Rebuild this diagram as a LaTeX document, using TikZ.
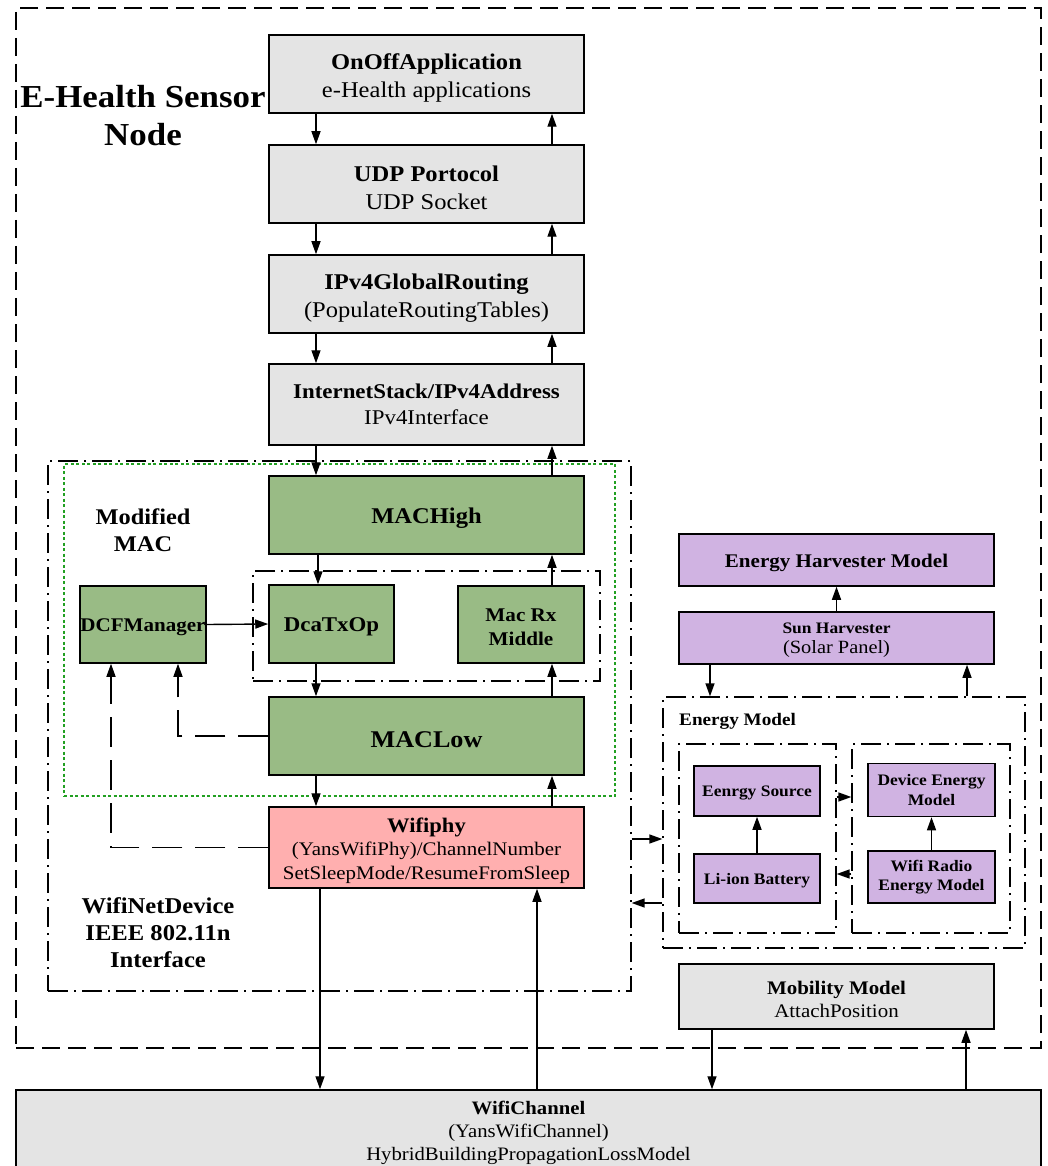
\documentclass[tikz,border=0pt]{standalone}
\usepackage{fontspec}
\setmainfont{Liberation Serif}[FakeStretch=1.09]
\usetikzlibrary{arrows.meta}

\definecolor{boxgray}{HTML}{E4E4E4}
\definecolor{macgreen}{HTML}{99BB85}
\definecolor{phypink}{HTML}{FFAFAF}
\definecolor{energypurple}{HTML}{D0B3E2}
\definecolor{dotgreen}{HTML}{22A022}

\newcommand{\fsz}[2]{\fontsize{#1}{#2}\selectfont}
% taller first line, so that the text sits a little below the box centre
\newcommand{\toppad}[1][1.05em]{\rule{0pt}{#1}}

\tikzset{
  box/.style={draw, line width=1.5pt, align=center, inner sep=0pt,
    execute at begin node=\toppad[0.96em]},
  graybox/.style={box, fill=boxgray, font=\fsz{22.5}{28}},
  greenbox/.style={box, fill=macgreen},
  pinkbox/.style={box, fill=phypink},
  purplebox/.style={box, fill=energypurple},
  tip/.style={-{Triangle[length=13pt,width=9pt]}},
  arr/.style={line width=1.4pt, tip},
  dashconn/.style={line width=1.4pt, dash pattern=on 30pt off 13pt, tip},
  dashdot/.style={draw, line width=1.3pt, dash pattern=on 20pt off 6pt on 2pt off 6pt, inner sep=0pt},
  outerdash/.style={draw, line width=1.3pt, dash pattern=on 18pt off 8pt},
  greendot/.style={draw=dotgreen, line width=1.2pt, dash pattern=on 3pt off 2.5pt},
  lbl/.style={align=center, inner sep=0pt, font=\bfseries},
}

\begin{document}
\begin{tikzpicture}[x=1pt, y=-1pt]
\useasboundingbox (0,0) rectangle (1047,1166);

% sensor node frame
\node[outerdash, minimum width=1025pt, minimum height=1040pt] (node) at (528.5,528) {};
\node[lbl, font=\bfseries\fsz{32}{38}] (title) at (143,116) {E-Health Sensor\\Node};

% protocol stack
\node[graybox, minimum width=315pt, minimum height=78pt] (app) at (426.5,74)
  {\toppad{\bfseries OnOffApplication}\\e-Health applications};
\node[graybox, minimum width=315pt, minimum height=78pt] (udp) at (426.5,184)
  {\toppad{\bfseries UDP Portocol}\\UDP Socket};
\node[graybox, minimum width=315pt, minimum height=78pt] (route) at (426.5,294)
  {\toppad{\bfseries IPv4GlobalRouting}\\(PopulateRoutingTables)};
\node[graybox, minimum width=315pt, minimum height=81pt, font=\fsz{21}{26}] (inet) at (426.5,404.5)
  {{\bfseries InternetStack/IPv4Address}\\IPv4Interface};

% WifiNetDevice and modified MAC frames
\node[dashdot, minimum width=583pt, minimum height=530pt] (wnd) at (339.5,726) {};
\node[greendot, minimum width=551pt, minimum height=332pt] (mmac) at (339.5,630) {};
\node[dashdot, minimum width=347pt, minimum height=110pt] (dcagrp) at (426.5,626) {};
\node[lbl, font=\bfseries\fsz{22.4}{27}] (mmaclbl) at (143,530) {Modified\\MAC};
\node[lbl, font=\bfseries\fsz{22.6}{27}] (wndlbl) at (158,933) {WifiNetDevice\\IEEE 802.11n\\Interface};

% MAC layer
\node[greenbox, minimum width=315pt, minimum height=78pt, font=\bfseries\fsz{22.5}{27}] (mhigh) at (426.5,515) {MACHigh};
\node[greenbox, minimum width=125pt, minimum height=78pt, font=\bfseries\fsz{21}{26}] (dca) at (331.5,624) {DcaTxOp};
\node[greenbox, minimum width=126pt, minimum height=77pt, font=\bfseries\fsz{19.4}{24}] (macrx) at (521,624.5) {\toppad[0.9em]Mac Rx\\Middle};
\node[greenbox, minimum width=126pt, minimum height=77pt, font=\bfseries\fsz{19.3}{24}] (dcf) at (143,624.5) {DCFManager};
\node[greenbox, minimum width=315pt, minimum height=78pt, font=\bfseries\fsz{24}{28}, execute at begin node={}] (mlow) at (426.5,736) {MACLow};

% physical layer
\node[pinkbox, minimum width=315pt, minimum height=81pt, font=\fsz{19.2}{23.5}] (phy) at (426.5,847.5)
  {\toppad{\bfseries\fsz{20.7}{23.5}Wifiphy}\\(YansWifiPhy)/ChannelNumber\\SetSleepMode/ResumeFromSleep};

% channel
\node[graybox, minimum width=1025pt, minimum height=80pt, font=\fsz{19}{23}] (chan) at (528.5,1130)
  {\toppad{\bfseries WifiChannel}\\(YansWifiChannel)\\HybridBuildingPropagationLossModel};

% energy side
\node[purplebox, minimum width=315pt, minimum height=52pt, font=\bfseries\fsz{19.3}{24}] (ehm) at (836.5,560) {Energy Harvester Model};
\node[purplebox, minimum width=315pt, minimum height=52pt, font=\fsz{18.7}{20}] (sun) at (836.5,638)
  {\toppad[15pt]{\bfseries\fsz{16}{20}Sun Harvester}\\(Solar Panel)};
\node[dashdot, minimum width=362pt, minimum height=251pt] (em) at (844,822.5) {};
\node[lbl, anchor=west, font=\bfseries\fsz{17.6}{22}] (emlbl) at (679,721) {Energy Model};
\node[dashdot, minimum width=157pt, minimum height=189pt] (emL) at (757.5,838.5) {};
\node[dashdot, minimum width=158pt, minimum height=189pt] (emR) at (931,838.5) {};
\node[purplebox, minimum width=126pt, minimum height=50pt, font=\bfseries\fsz{16}{19.5}] (src) at (757,791) {Eenrgy Source};
\node[purplebox, minimum width=126pt, minimum height=49pt, font=\bfseries\fsz{16}{19.5}] (batt) at (757,878.5) {Li-ion Battery};
\node[purplebox, minimum width=127pt, minimum height=53pt, font=\bfseries\fsz{16}{19.5}] (dev) at (931.5,790) {Device Energy\\Model};
\node[purplebox, minimum width=127pt, minimum height=52pt, font=\bfseries\fsz{16}{19.5}] (radio) at (931.5,877) {Wifi Radio\\Energy Model};

% mobility
\node[graybox, minimum width=315pt, minimum height=65pt, font=\fsz{19.2}{23}] (mob) at (836.5,996.5)
  {\toppad{\bfseries Mobility Model}\\AttachPosition};

% connector columns and rows
\coordinate (xl) at (316,0);
\coordinate (xr) at (552,0);
\coordinate (xdca) at (318,0);
\coordinate (xphyd) at (320,0);
\coordinate (xphyu) at (537,0);
\coordinate (xmobd) at (712,0);
\coordinate (xmobu) at (966,0);
\coordinate (xsund) at (710,0);
\coordinate (xsunu) at (967,0);
\coordinate (xdcfa) at (178,0);
\coordinate (xdcfb) at (111,0);
\coordinate (yto) at (0,839);
\coordinate (yfrom) at (0,903);
\coordinate (yinR) at (0,797);
\coordinate (yinL) at (0,874);

% stack connectors
\draw[arr] (app.south -| xl) -- (udp.north -| xl);
\draw[arr] (udp.north -| xr) -- (app.south -| xr);
\draw[arr] (udp.south -| xl) -- (route.north -| xl);
\draw[arr] (route.north -| xr) -- (udp.south -| xr);
\draw[arr] (route.south -| xl) -- (inet.north -| xl);
\draw[arr] (inet.north -| xr) -- (route.south -| xr);
\draw[arr] (inet.south -| xl) -- (mhigh.north -| xl);
\draw[arr] (mhigh.north -| xr) -- (inet.south -| xr);
\draw[arr] (mhigh.south -| xdca) -- (dca.north -| xdca);
\draw[arr] (macrx.north -| xr) -- (mhigh.south -| xr);
\draw[arr] (dca.south -| xl) -- (mlow.north -| xl);
\draw[arr] (mlow.north -| xr) -- (macrx.south -| xr);
\draw[arr] (dcf.east) -- (dca.west);
\draw[dashconn] (mlow.west) -| (dcf.south -| xdcfa);
\draw[dashconn] (phy.west) -| (dcf.south -| xdcfb);
\draw[arr] (mlow.south -| xl) -- (phy.north -| xl);
\draw[arr] (phy.north -| xr) -- (mlow.south -| xr);
\draw[arr] (phy.south -| xphyd) -- (chan.north -| xphyd);
\draw[arr] (chan.north -| xphyu) -- (phy.south -| xphyu);

% mobility connectors
\draw[arr] (mob.south -| xmobd) -- (chan.north -| xmobd);
\draw[arr] (chan.north -| xmobu) -- (mob.south -| xmobu);

% energy connectors
\draw[arr] (sun.north) -- (ehm.south);
\draw[arr] (sun.south -| xsund) -- (em.north -| xsund);
\draw[arr] (em.north -| xsunu) -- (sun.south -| xsunu);
\draw[arr] (batt.north) -- (src.south);
\draw[arr] (radio.north) -- (dev.south);
\draw[arr] (emL.east |- yinR) -- (emR.west |- yinR);
\draw[arr] (emR.west |- yinL) -- (emL.east |- yinL);
\draw[arr] (wnd.east |- yto) -- (em.west |- yto);
\draw[arr] (em.west |- yfrom) -- (wnd.east |- yfrom);
\end{tikzpicture}
\end{document}
